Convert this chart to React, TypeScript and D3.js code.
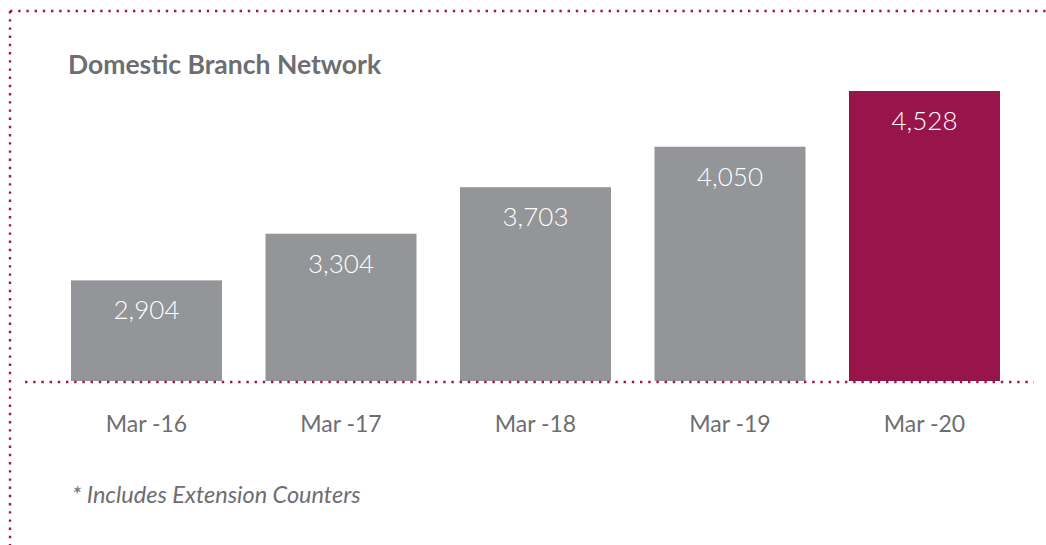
import React from "react";
import * as d3 from "d3";

const categories = ["Mar -16", "Mar -17", "Mar -18", "Mar -19", "Mar -20"];
const values = [2904, 3304, 3703, 4050, 4528];
const highlight = [false, false, false, false, true];
const title = "Domestic Branch Network";
const footnote = "* Includes Extension Counters";

const W = 1046;
const H = 545;
const GRAY = "#939598";
const MAROON = "#98154c";
const DOT = "#9e1650";
const TEXT = "#6d6e71";
const FONT = "Lato, 'Open Sans', sans-serif";

export default function App() {
  const x = d3.scaleBand<string>().domain(categories).range([27.5, 1043.5]).paddingInner(0.2237).paddingOuter(0.2237);
  const y = d3.scaleLinear().domain([2041, 4528]).range([381, 91]);
  const fmt = d3.format(",");
  const dash = "2.4 5.8";
  return (
    <svg width={W} height={H} style={{ position: "absolute", left: 0, top: 0, background: "#fff" }} fontFamily={FONT}>
      <line x1={10} x2={W} y1={11} y2={11} stroke={DOT} strokeWidth={2.4} strokeDasharray={dash} />
      <line x1={10} x2={10} y1={11} y2={H} stroke={DOT} strokeWidth={2.4} strokeDasharray={dash} />
      <text x={68} y={74} fontSize={26.5} fontWeight={700} fill={TEXT}>{title}</text>
      {categories.map((c, i) => {
        const bx = x(c)!;
        const top = y(values[i]);
        return (
          <g key={c}>
            <rect x={bx} y={top} width={x.bandwidth()} height={381 - top} fill={highlight[i] ? MAROON : GRAY} />
            <text x={bx + x.bandwidth() / 2} y={top + 39} textAnchor="middle" fontSize={26} fontWeight={300} fill="#fff">{fmt(values[i])}</text>
            <text x={bx + x.bandwidth() / 2} y={432} textAnchor="middle" fontSize={23} fontWeight={400} fill={TEXT}>{c}</text>
          </g>
        );
      })}
      <line x1={25} x2={1034} y1={382} y2={382} stroke={DOT} strokeWidth={2.4} strokeDasharray={dash} />
      <text x={72} y={503} fontSize={23.5} fontStyle="italic" fill={TEXT}>{footnote}</text>
    </svg>
  );
}
